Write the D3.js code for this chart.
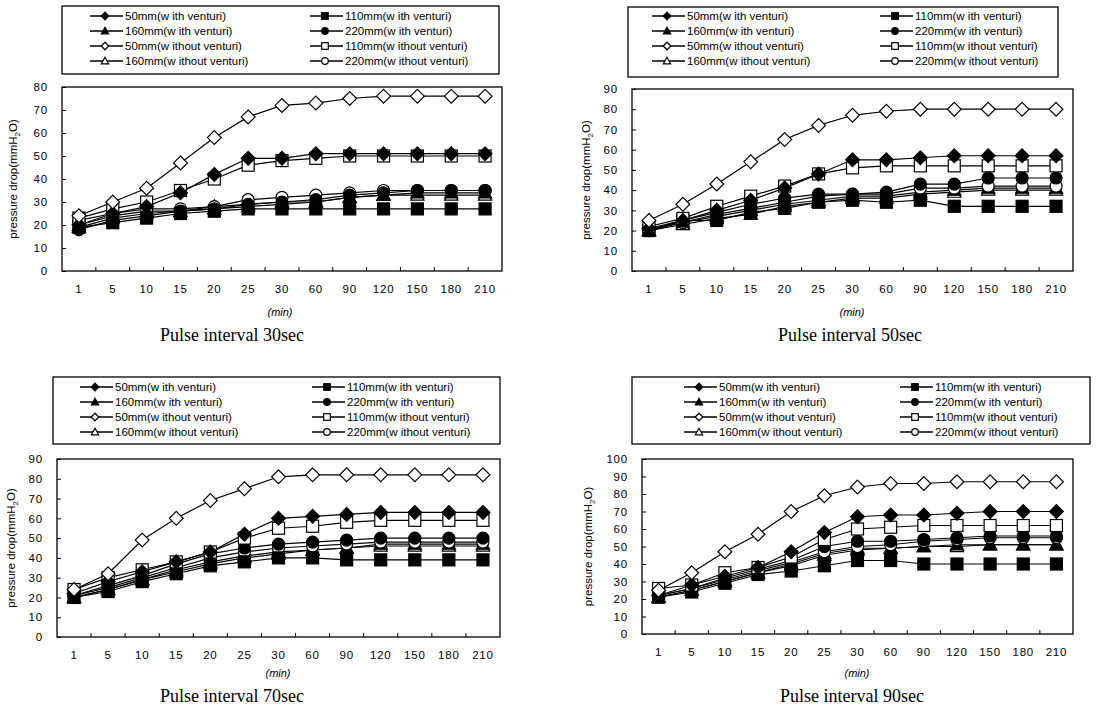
<!DOCTYPE html>
<html><head><meta charset="utf-8">
<script src="https://cdn.jsdelivr.net/npm/d3@7"></script>
<style>body{margin:0;background:#fff} svg{display:block}</style>
</head><body><svg id="c" width="1110" height="720"></svg>
<script>
// ---- data ----
const categories = ["1","5","10","15","20","25","30","60","90","120","150","180","210"];
const seriesNames = ["50mm(w ith venturi)","110mm(w ith venturi)","160mm(w ith venturi)","220mm(w ith venturi)",
  "50mm(w ithout venturi)","110mm(w ithout venturi)","160mm(w ithout venturi)","220mm(w ithout venturi)"];
const seriesShapes = ["diamond","square","triangle","circle","diamond","square","triangle","circle"];
const seriesFilled = [true,true,true,true,false,false,false,false];
const panelTitles = ["Pulse interval 30sec","Pulse interval 50sec","Pulse interval 70sec","Pulse interval 90sec"];
const yMaxes = [80,90,90,100];

// Pulse interval 30 sec
const p30_50with   = [20,25,28,34,42,49,49,51,51,51,51,51,51];
const p30_110with  = [19,21,23,25,26,27,27,27,27,27,27,27,27];
const p30_160with  = [19,23,25,26,27,28,29,30,32,33,34,34,34];
const p30_220with  = [18,22,24,26,27,29,30,31,33,34,35,35,35];
const p30_50wo     = [24,30,36,47,58,67,72,73,75,76,76,76,76];
const p30_110wo    = [23,27,30,35,40,46,48,49,50,50,50,50,50];
const p30_160wo    = [20,24,26,26,28,29,30,30,32,33,33,33,33];
const p30_220wo    = [22,25,27,27,28,31,32,33,34,35,35,35,35];
// Pulse interval 50 sec
const p50_50with   = [21,25,30,35,41,48,55,55,56,57,57,57,57];
const p50_110with  = [20,25,25,29,31,34,35,34,35,32,32,32,32];
const p50_160with  = [20,24,27,30,33,35,37,37,39,40,41,41,41];
const p50_220with  = [20,25,29,33,36,38,38,39,43,43,46,46,46];
const p50_50wo     = [25,33,43,54,65,72,77,79,80,80,80,80,80];
const p50_110wo    = [22,26,32,37,42,48,51,52,52,52,52,52,52];
const p50_160wo    = [20,23,26,28,32,34,36,36,38,39,40,40,40];
const p50_220wo    = [21,24,28,31,34,37,38,38,41,41,42,42,42];
// Pulse interval 70 sec
const p70_50with   = [22,28,33,38,43,52,60,61,62,63,63,63,63];
const p70_110with  = [20,23,28,32,36,38,40,40,39,39,39,39,39];
const p70_160with  = [20,24,29,34,38,41,43,44,45,47,47,47,47];
const p70_220with  = [21,26,31,37,42,45,47,48,49,50,50,50,50];
const p70_50wo     = [24,32,49,60,69,75,81,82,82,82,82,82,82];
const p70_110wo    = [24,30,34,38,43,50,55,56,58,59,59,59,59];
const p70_160wo    = [20,24,29,33,37,40,42,44,45,46,46,46,46];
const p70_220wo    = [21,25,30,35,40,43,45,46,47,48,48,48,48];
// Pulse interval 90 sec
const p90_50with   = [22,28,33,38,47,58,67,68,68,69,70,70,70];
const p90_110with  = [21,24,29,34,36,39,42,42,40,40,40,40,40];
const p90_160with  = [21,25,30,35,40,46,49,49,50,51,51,51,51];
const p90_220with  = [22,26,32,37,42,50,53,53,54,55,56,56,56];
const p90_50wo     = [25,35,47,57,70,79,84,86,86,87,87,87,87];
const p90_110wo    = [26,28,35,38,44,54,60,61,62,62,62,62,62];
const p90_160wo    = [21,25,30,35,39,45,48,49,50,50,51,51,51];
const p90_220wo    = [22,26,31,36,41,47,50,51,53,54,55,55,55];

const panelData = [
  [p30_50with,p30_110with,p30_160with,p30_220with,p30_50wo,p30_110wo,p30_160wo,p30_220wo],
  [p50_50with,p50_110with,p50_160with,p50_220with,p50_50wo,p50_110wo,p50_160wo,p50_220wo],
  [p70_50with,p70_110with,p70_160with,p70_220with,p70_50wo,p70_110wo,p70_160wo,p70_220wo],
  [p90_50with,p90_110with,p90_160with,p90_220with,p90_50wo,p90_110wo,p90_160wo,p90_220wo]
];

// ---- layout ----
const layouts = [
  {plot:{l:62,r:502,t:87,b:271}, leg:{x:62,y:6,w:437,h:68,c1:90,c2:310,ly:16}, title:[232,341], min:[280,316], ylab:17},
  {plot:{l:632,r:1073,t:89,b:271}, leg:{x:628,y:7,w:430,h:70,c1:652,c2:880,ly:16}, title:[850,341], min:[852,316], ylab:590},
  {plot:{l:57,r:500,t:459,b:637}, leg:{x:53,y:377,w:447,h:67,c1:80,c2:312,ly:387}, title:[232,702], min:[278,677], ylab:15},
  {plot:{l:642,r:1073,t:459,b:634}, leg:{x:632,y:377,w:458,h:67,c1:684,c2:900,ly:387}, title:[852,702], min:[857,677], ylab:592}
];

const svg = d3.select("#c");
const FONT = "'Liberation Sans', Arial, sans-serif";

function marker(g, shape, filled, x, y, s) {
  const fill = filled ? "#000" : "#fff";
  let el;
  if (shape === "circle") el = g.append("circle").attr("cx", x).attr("cy", y).attr("r", s);
  else if (shape === "square") el = g.append("rect").attr("x", x - s).attr("y", y - s).attr("width", 2*s).attr("height", 2*s);
  else if (shape === "diamond") el = g.append("path").attr("d", `M${x},${y-s*1.15}L${x+s*1.15},${y}L${x},${y+s*1.15}L${x-s*1.15},${y}Z`);
  else el = g.append("path").attr("d", `M${x},${y-s*1.15}L${x+s*1.1},${y+s*0.85}L${x-s*1.1},${y+s*0.85}Z`);
  el.attr("fill", fill).attr("stroke", "#000").attr("stroke-width", 1.2);
}

panelData.forEach((series, pi) => {
  const L = layouts[pi], P = L.plot;
  const g = svg.append("g");
  const x = d3.scaleBand().domain(categories).range([P.l, P.r]).padding(0);
  const y = d3.scaleLinear().domain([0, yMaxes[pi]]).range([P.b, P.t]);

  // frame
  g.append("rect").attr("x", P.l).attr("y", P.t).attr("width", P.r - P.l).attr("height", P.b - P.t)
    .attr("fill", "none").attr("stroke", "#000").attr("stroke-width", 1.3);

  // y axis
  const yAxis = d3.axisLeft(y).ticks(yMaxes[pi] / 10).tickSize(-4).tickPadding(14);
  const ya = g.append("g").attr("transform", `translate(${P.l},0)`).call(yAxis);
  ya.select(".domain").remove();
  ya.selectAll("line").attr("stroke", "#000");
  ya.selectAll("text").attr("font-family", FONT).attr("font-size", 11.5).attr("fill", "#000").attr("letter-spacing", 0.8);

  // x axis
  const xAxis = d3.axisBottom(x).tickSize(0).tickPadding(14);
  const xa = g.append("g").attr("transform", `translate(0,${P.b})`).call(xAxis);
  xa.select(".domain").remove();
  xa.selectAll("text").attr("font-family", FONT).attr("font-size", 11.5).attr("fill", "#000").attr("letter-spacing", 0.8);
  // band boundary ticks
  categories.slice(1).forEach(c => {
    g.append("line").attr("x1", x(c)).attr("x2", x(c)).attr("y1", P.b).attr("y2", P.b - 4).attr("stroke", "#000");
  });

  // y label
  const yl = g.append("text").attr("transform", `translate(${L.ylab},${(P.t + P.b) / 2}) rotate(-90)`)
    .attr("text-anchor", "middle").attr("font-family", FONT).attr("font-size", 11.5).attr("fill", "#000");
  yl.append("tspan").text("pressure drop(mmH");
  yl.append("tspan").attr("font-size", 8).attr("dy", 3).text("2");
  yl.append("tspan").attr("dy", -3).text("O)");

  // (min)
  g.append("text").attr("x", L.min[0]).attr("y", L.min[1]).attr("text-anchor", "middle")
    .attr("font-family", FONT).attr("font-size", 11).attr("font-style", "italic").text("(min)");
  // title
  g.append("text").attr("x", L.title[0]).attr("y", L.title[1]).attr("text-anchor", "middle")
    .attr("font-family", "'Liberation Serif', 'Times New Roman', serif").attr("font-size", 18).text(panelTitles[pi]);

  // lines & markers
  const line = d3.line().x((d, i) => x(categories[i]) + x.bandwidth() / 2).y(d => y(d));
  const order = [6, 2, 7, 3, 1, 5, 0, 4];
  order.forEach(si => {
    g.append("path").datum(series[si]).attr("d", line).attr("fill", "none").attr("stroke", "#000").attr("stroke-width", 1.2);
  });
  order.forEach(si => {
    const mg = g.append("g");
    series[si].forEach((v, i) => marker(mg, seriesShapes[si], seriesFilled[si], x(categories[i]) + x.bandwidth() / 2, y(v), 6));
  });

  // legend
  const Lg = L.leg;
  g.append("rect").attr("x", Lg.x).attr("y", Lg.y).attr("width", Lg.w).attr("height", Lg.h)
    .attr("fill", "#fff").attr("stroke", "#000").attr("stroke-width", 1.3);
  seriesNames.forEach((name, k) => {
    const col = k % 2, row = Math.floor(k / 2);
    const lx = col === 0 ? Lg.c1 : Lg.c2;
    const ly = Lg.ly + row * 15;
    g.append("line").attr("x1", lx).attr("x2", lx + 33).attr("y1", ly).attr("y2", ly).attr("stroke", "#000").attr("stroke-width", 1.3);
    marker(g, seriesShapes[k], seriesFilled[k], lx + 15, ly, 3.3);
    g.append("text").attr("x", lx + 35).attr("y", ly + 4).attr("font-family", FONT).attr("font-size", 11.5)
      .attr("fill", "#000").text(name);
  });
});
</script></body></html>
